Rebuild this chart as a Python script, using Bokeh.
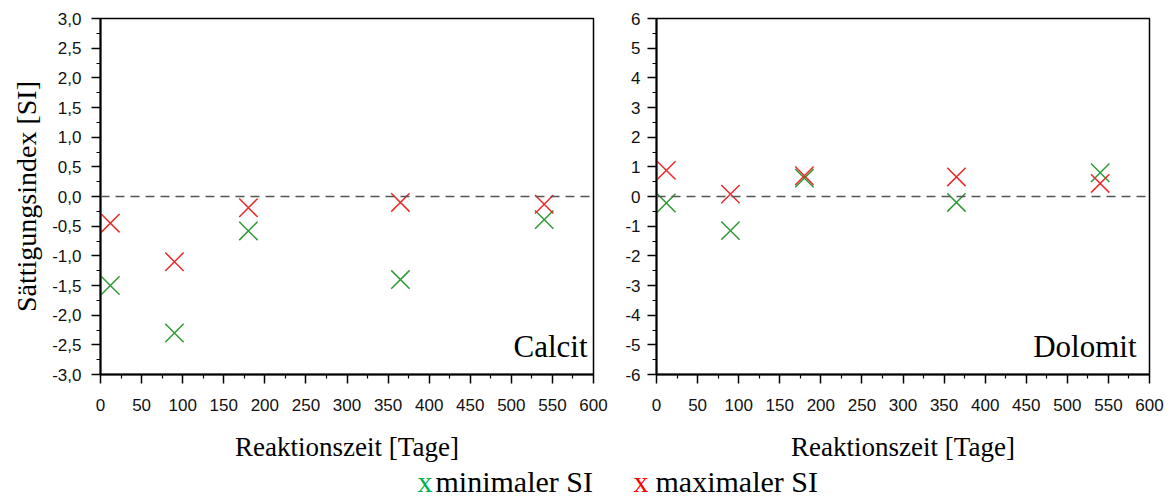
from bokeh.plotting import figure
from bokeh.models import FixedTicker, Span, Label, Range1d, CustomJSTickFormatter
from bokeh.layouts import row, column
from bokeh.embed import file_html
from bokeh.resources import INLINE
from bokeh.core.properties import value

# ---------------- data ----------------
days = [12, 90, 180, 365, 540]
calcit_min = [-1.5, -2.3, -0.58, -1.4, -0.39]
calcit_max = [-0.45, -1.1, -0.19, -0.1, -0.13]
dolomit_min = [-0.22, -1.15, 0.62, -0.2, 0.8]
dolomit_max = [0.88, 0.08, 0.7, 0.66, 0.44]

x_ticks = [0, 50, 100, 150, 200, 250, 300, 350, 400, 450, 500, 550, 600]
x_tick_labels = ["0", "50", "100", "150", "200", "250", "300", "350", "400",
                 "450", "500", "550", "600"]
calcit_y_ticks = [-3.0, -2.5, -2.0, -1.5, -1.0, -0.5, 0.0, 0.5, 1.0, 1.5, 2.0, 2.5, 3.0]
calcit_y_labels = ["-3,0", "-2,5", "-2,0", "-1,5", "-1,0", "-0,5", "0,0", "0,5",
                   "1,0", "1,5", "2,0", "2,5", "3,0"]
dolomit_y_ticks = [-6, -5, -4, -3, -2, -1, 0, 1, 2, 3, 4, 5, 6]
dolomit_y_labels = ["-6", "-5", "-4", "-3", "-2", "-1", "0", "1", "2", "3", "4", "5", "6"]

legend_symbols = ["x", "x"]
legend_labels = ["minimaler SI", "maximaler SI"]

GREEN = "#2e9a34"
RED = "#ec2a2a"
GREEN_L = "#00b050"
RED_L = "#ff0000"
SERIF = "Liberation Serif"
SANS = "Liberation Sans"

FRAME_W = 493
FRAME_H = 356
TOP = 18
PANEL_H = 465
LEGEND_H = 35


def minors(ticks):
    return [(a + b) / 2 for a, b in zip(ticks[:-1], ticks[1:])]


def fmt(ticks, labels):
    return CustomJSTickFormatter(args=dict(tv=list(ticks), tl=list(labels)), code="""
        let best = 0;
        for (let i = 0; i < tv.length; i++) {
            if (Math.abs(tv[i] - tick) < Math.abs(tv[best] - tick)) best = i;
        }
        return tl[best];
    """)


def make_panel(width, border_left, yticks, ylabels, ymin, ymax,
               ymins, ymaxs, name, name_dx, ylabel=None, ystandoff=10):
    border_right = width - border_left - FRAME_W
    p = figure(width=width, height=PANEL_H, x_range=Range1d(0, 600), y_range=Range1d(ymin, ymax),
               output_backend="svg", toolbar_location=None, title=None,
               min_border_left=border_left, min_border_right=border_right,
               min_border_top=TOP, min_border_bottom=PANEL_H - TOP - FRAME_H)
    p.background_fill_color = "white"
    p.border_fill_color = "white"
    p.outline_line_color = "black"
    p.outline_line_width = 1.5
    p.xgrid.visible = False
    p.ygrid.visible = False

    xa = p.xaxis[0]
    xa.ticker = FixedTicker(ticks=x_ticks, minor_ticks=minors(x_ticks))
    xa.formatter = fmt(x_ticks, x_tick_labels)
    xa.axis_label = "Reaktionszeit [Tage]"
    ya = p.yaxis[0]
    ya.ticker = FixedTicker(ticks=yticks, minor_ticks=minors(yticks))
    ya.formatter = fmt(yticks, ylabels)
    if ylabel:
        ya.axis_label = ylabel
    for ax in (xa, ya):
        ax.axis_line_color = "black"
        ax.axis_line_width = 2
        ax.major_tick_line_color = "black"
        ax.major_tick_line_width = 1.5
        ax.minor_tick_line_color = "black"
        ax.minor_tick_line_width = 1.2
        ax.major_tick_in = 0
        ax.major_tick_out = 9
        ax.minor_tick_in = 0
        ax.minor_tick_out = 4
        ax.major_label_text_font = SANS
        ax.major_label_text_font_size = "17px"
        ax.major_label_text_color = "#111111"
        ax.axis_label_text_font = SERIF
        ax.axis_label_text_font_size = "27px"
        ax.axis_label_text_font_style = "normal"
        ax.axis_label_text_color = "black"
    ya.axis_label_text_font_size = "28px"
    xa.major_label_standoff = 15
    xa.axis_label_standoff = 18
    ya.major_label_standoff = ystandoff
    ya.axis_label_standoff = 7

    p.add_layout(Span(location=0, dimension="width", line_color="#555555",
                      line_dash="9 6", line_width=1.3))

    p.scatter(days, ymins, marker="x", size=26, line_color=GREEN, line_width=1.5)
    p.scatter(days, ymaxs, marker="x", size=26, line_color=RED, line_width=1.5)

    # mineral name, lower right corner of the frame
    p.add_layout(Label(x=600, y=ymin, x_offset=-name_dx, y_offset=28, text=name,
                       text_align="right", text_baseline="alphabetic", text_font=SERIF,
                       text_font_size="31px", text_color="black"))
    return p


p1 = make_panel(610, 100, calcit_y_ticks, calcit_y_labels, -3.0, 3.0,
                calcit_min, calcit_max, "Calcit", 6,
                ylabel="Sättigungsindex [SI]", ystandoff=10)
p2 = make_panel(565, 46, dolomit_y_ticks, dolomit_y_labels, -6, 6,
                dolomit_min, dolomit_max, "Dolomit", 13, ystandoff=7)

# legend strip below the panels; its frame covers the whole strip (page pixels)
p3 = figure(width=1175, height=LEGEND_H, x_range=Range1d(0, 1175),
            y_range=Range1d(LEGEND_H, 0), title=None,
            output_backend="svg", toolbar_location=None,
            x_axis_location=None, y_axis_location=None,
            min_border=0, min_border_left=0, min_border_right=0,
            min_border_top=0, min_border_bottom=0)
p3.outline_line_color = None
p3.background_fill_color = "white"
p3.border_fill_color = "white"
p3.grid.visible = False
BASE = 16  # text anchor, px from top of strip
p3.text(x=[417, 633], y=[BASE, BASE], text=legend_symbols, text_color=[GREEN_L, RED_L],
        text_font=value(SERIF), text_font_size="30px", text_baseline="alphabetic")
p3.text(x=[435, 655], y=[BASE, BASE], text=legend_labels, text_color="black",
        text_font=value(SERIF), text_font_size="30px", text_baseline="alphabetic")

layout = column(row(p1, p2, spacing=0), p3, spacing=0)

with open("out.html", "w") as f:
    f.write(file_html(layout, INLINE))
